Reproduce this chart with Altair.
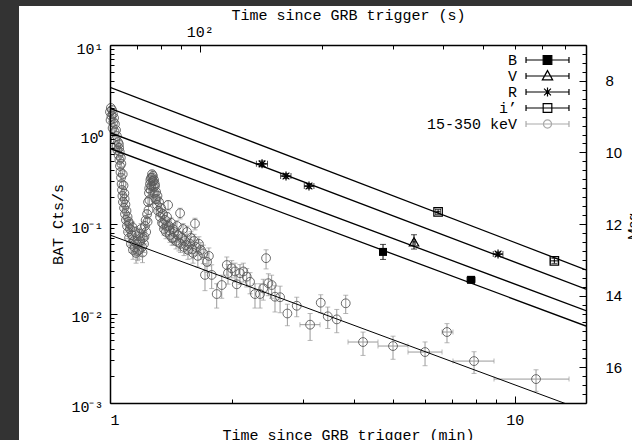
import altair as alt
import pandas as pd

# ---------------- data ----------------
# Swift/BAT 15-350 keV light curve: time since trigger (s), rate (counts/s), 1-sigma error
bat_t_s = [60.0, 60.2, 60.3, 60.5, 60.7, 60.9, 61.0, 61.2, 61.4, 61.6,
           61.7, 61.9, 62.1, 62.3, 62.4, 62.6, 62.8, 63.0, 63.2, 63.3,
           63.5, 63.7, 63.9, 64.1, 64.25, 64.4, 64.6, 65.0, 65.2, 65.35,
           65.7, 65.9, 66.1, 66.5, 66.7, 66.9, 67.2, 67.6, 68.0, 68.4,
           68.8, 69.2, 69.6, 70.0, 70.4, 70.8, 71.2, 71.6, 72.0, 72.4,
           72.8, 73.2, 73.7, 74.1, 74.3, 74.5, 74.7, 74.9, 75.1, 75.35,
           75.6, 75.8, 76.0, 76.2, 76.4, 76.6, 76.9, 77.1, 77.3, 77.5,
           77.7, 78.0, 78.4, 78.6, 78.9, 79.3, 79.8, 80.2, 80.7, 81.1,
           81.6, 82.1, 82.5, 83.0, 83.5, 83.9, 84.4, 84.9, 85.4, 85.9,
           86.4, 87.35, 87.8, 88.35, 89.4, 89.6, 90.4, 90.9, 91.4, 91.9,
           93.0, 93.5, 94.6, 95.1, 96.2, 96.8, 97.3, 97.9, 98.9, 99.5,
           100.6, 102.0, 103.0, 104.2, 105.3, 107.0, 110.1, 113.3, 116.6, 117.4,
           119.9, 122.2, 123.4, 125.7, 128.1, 130.6, 133.1, 136.9, 140.9, 143.5,
           145.8, 147.7, 150.5, 153.4, 157.9, 164.6, 173.6, 199.0, 207.1, 218.0,
           229.4,
           63.1, 63.4, 63.8, 64.0, 64.5, 64.8, 65.1, 65.5,
           66.3, 67.0, 68.2, 69.0, 70.2, 71.0, 72.2, 73.0, 73.5,
           75.0, 75.5, 76.3, 76.8, 77.4, 78.2,
           80.0, 81.3, 82.8, 84.1, 86.0, 88.8, 92.4, 95.7]
bat_rate = [1.79, 1.45, 1.98, 1.61, 1.88, 1.18, 1.69, 1.38, 1.53, 1.07,
            1.31, 0.87, 1.12, 0.74, 0.96, 0.67, 0.82, 0.59, 0.71, 0.52,
            0.445, 0.38, 0.33, 0.28, 0.24, 0.206, 0.176, 0.151, 0.19, 0.129,
            0.111, 0.14, 0.095, 0.0815, 0.106, 0.070, 0.088, 0.060, 0.0754, 0.0513,
            0.0646, 0.0815, 0.0475, 0.060, 0.073, 0.0513, 0.0646, 0.088, 0.0554, 0.070,
            0.060, 0.095, 0.0815, 0.129, 0.106, 0.176, 0.143, 0.222, 0.185, 0.28,
            0.24, 0.327, 0.266, 0.36, 0.303, 0.345, 0.259, 0.31, 0.222, 0.266,
            0.19, 0.228, 0.163, 0.206, 0.140, 0.176, 0.120, 0.151, 0.103, 0.129,
            0.088, 0.111, 0.0815, 0.120, 0.163, 0.095, 0.0754, 0.103, 0.070, 0.088,
            0.0815, 0.0646, 0.095, 0.0754, 0.132, 0.060, 0.070, 0.088, 0.0554, 0.0646,
            0.0815, 0.0513, 0.060, 0.070, 0.0475, 0.0646, 0.101, 0.0554, 0.044, 0.060,
            0.0513, 0.047, 0.027, 0.0377, 0.044, 0.027, 0.0165, 0.0208, 0.0348, 0.0283,
            0.0320, 0.0295, 0.0212, 0.0282, 0.0295, 0.0258, 0.0226, 0.0165, 0.0165, 0.0191,
            0.0415, 0.0218, 0.0208, 0.0154, 0.0152, 0.0100, 0.0122, 0.0132, 0.0093, 0.0086,
            0.0130,
            0.78, 0.64, 0.55, 0.47, 0.36, 0.27, 0.22, 0.165,
            0.12, 0.100, 0.092, 0.055, 0.050, 0.078, 0.048, 0.072, 0.11,
            0.25, 0.31, 0.33, 0.30, 0.28, 0.19,
            0.135, 0.10, 0.095, 0.085, 0.07, 0.062, 0.058, 0.052]
bat_err = [0.06, 0.06, 0.07, 0.06, 0.06, 0.05, 0.06, 0.05, 0.05, 0.05,
           0.05, 0.04, 0.05, 0.04, 0.04, 0.04, 0.04, 0.035, 0.04, 0.035,
           0.03, 0.03, 0.03, 0.028, 0.025, 0.022, 0.02, 0.018, 0.02, 0.016,
           0.015, 0.016, 0.014, 0.013, 0.014, 0.013, 0.013, 0.012, 0.012, 0.011,
           0.012, 0.012, 0.011, 0.012, 0.012, 0.011, 0.012, 0.013, 0.011, 0.012,
           0.012, 0.013, 0.013, 0.015, 0.014, 0.018, 0.016, 0.022, 0.02, 0.03,
           0.028, 0.035, 0.03, 0.038, 0.032, 0.036, 0.03, 0.034, 0.026, 0.03,
           0.022, 0.026, 0.02, 0.024, 0.018, 0.02, 0.016, 0.018, 0.014, 0.016,
           0.013, 0.014, 0.013, 0.015, 0.02, 0.014, 0.013, 0.014, 0.012, 0.013,
           0.013, 0.012, 0.014, 0.013, 0.018, 0.012, 0.012, 0.013, 0.011, 0.012,
           0.013, 0.011, 0.012, 0.012, 0.011, 0.012, 0.015, 0.011, 0.011, 0.012,
           0.011, 0.011, 0.009, 0.009, 0.01, 0.008, 0.005, 0.006, 0.008, 0.007,
           0.007, 0.007, 0.006, 0.007, 0.007, 0.006, 0.006, 0.005, 0.005, 0.005,
           0.01, 0.006, 0.006, 0.005, 0.005, 0.0027, 0.003, 0.003, 0.0025, 0.0025,
           0.003,
           0.04, 0.035, 0.035, 0.03, 0.03, 0.025, 0.022, 0.018,
           0.015, 0.014, 0.013, 0.011, 0.011, 0.012, 0.011, 0.012, 0.014,
           0.025, 0.03, 0.03, 0.03, 0.028, 0.02,
           0.016, 0.014, 0.014, 0.013, 0.012, 0.012, 0.011, 0.011]
# BAT points binned over wider time intervals (s)
bat_bin_t_s = [187.3, 253.1, 300.2, 360.2, 408.1, 476.0, 677.3]
bat_bin_lo_s = [176.8, 232.4, 275.6, 326.9, 396.8, 422.3, 533.3]
bat_bin_hi_s = [198.2, 275.6, 326.9, 396.8, 422.3, 533.3, 817.2]
bat_bin_rate = [0.0075, 0.0048, 0.00433, 0.00371, 0.00621, 0.00294, 0.00185]
bat_bin_err = [0.0025, 0.0014, 0.00125, 0.0011, 0.0015, 0.0008, 0.0005]

# power-law fit to the BAT decay (min, counts/s)
bat_fit_t = [1.0, 15.0]
bat_fit_rate = [0.0753, 0.00081]

# optical photometry: time (min), magnitude, error, time interval (min)
B_t, B_mag, B_err, B_tlo, B_thi = [4.727, 7.80], [12.78, 13.56], [0.21, 0.05], [4.70, 7.62], [4.76, 7.98]
V_t, V_mag, V_err, V_tlo, V_thi = [5.638], [12.50], [0.20], [5.60], [5.68]
R_t = [2.375, 2.722, 3.102, 9.094]
R_mag = [10.32, 10.66, 10.94, 12.84]
R_err = [0.08, 0.07, 0.07, 0.06]
R_tlo = [2.30, 2.64, 3.02, 8.85]
R_thi = [2.45, 2.80, 3.19, 9.35]
I_t, I_mag, I_err, I_tlo, I_thi = [6.466, 12.53], [11.66, 13.03], [0.07, 0.07], [6.38, 12.25], [6.55, 12.80]

# power-law fits to the optical bands (mag at 1 min and 15 min)
fit_t = [1.0, 15.0]
fit_mag_I = [8.18, 13.28]
fit_mag_R = [8.77, 13.82]
fit_mag_V = [9.45, 14.42]
fit_mag_B = [9.89, 14.85]

bands = ["B", "V", "R", "i\u2019", "15-350 keV"]

# axis tick values
bottom_ticks_min = [1, 2, 3, 4, 5, 6, 7, 8, 9, 10]
top_ticks_s = [60, 70, 80, 90, 100, 200, 300, 400, 500, 600, 700, 800, 900]
left_major = [0.001, 0.01, 0.1, 1.0, 10.0]
left_major_labels = ["10\u207b\u00b3", "10\u207b\u00b2", "10\u207b\u00b9", "10\u2070", "10\u00b9"]
right_major = [8, 10, 12, 14, 16]

# ---------------- styling ----------------
W, H = 476, 358
MONO = "Liberation Mono"
SANS = "Liberation Sans"
BAT_PT = "#5a5a5a"
BAT_BAR = "#9a9a9a"

XS = alt.Scale(type="log", domain=[1, 15], nice=False)
YF = alt.Scale(type="log", domain=[0.001, 10], nice=False)
YM = alt.Scale(type="linear", domain=[7, 17], reverse=True, nice=False, zero=False)

left_ticks = [m * 10.0 ** e for e in range(-3, 1) for m in range(1, 10)] + [10.0]
right_ticks = [7 + 0.25 * k for k in range(41)]
top_ticks_min = [s / 60 for s in top_ticks_s]


def tsize(test):
    return {"condition": {"test": test, "value": 7}, "value": 4}


def tick_axis(orient, offset, values, test):
    return alt.Axis(orient=orient, offset=offset, values=values, labels=False, ticks=True,
                    tickSize=tsize(test), tickColor="black", tickWidth=1, domain=True,
                    domainColor="black", domainWidth=1.5, grid=False, title=None, zindex=1)


ax_bottom_ticks = tick_axis("top", -H, bottom_ticks_min, "datum.value < 1.01 || datum.value > 9.9")
ax_left_ticks = tick_axis("right", -W, left_ticks,
                          "abs(log(datum.value)/LN10 - round(log(datum.value)/LN10)) < 0.01")
ax_top_ticks = tick_axis("bottom", -H, top_ticks_min, "abs(datum.value*60 - 100) < 0.5")
ax_right_ticks = tick_axis("left", -W, right_ticks, "abs(datum.value/2 - round(datum.value/2)) < 0.01")

left_expr = "[" + ",".join("'%s'" % s for s in left_major_labels) + "][round(log(datum.value)/LN10)+3]"

ax_bottom_lab = alt.Axis(orient="bottom", values=[1, 10], labelExpr="datum.value < 5 ? '1' : '10'",
                         ticks=False, tickSize=0, domain=False, grid=False, labelFont=MONO,
                         labelFontSize=15, labelColor="black", labelPadding=21,
                         labelBaseline="alphabetic", labelOverlap=False,
                         title="Time since GRB trigger (min)", titleFont=MONO, titleFontSize=15,
                         titleFontWeight="normal", titleColor="black", titleX=W / 2, titleY=36,
                         titleBaseline="alphabetic", titleAlign="center", zindex=1)
ax_left_lab = alt.Axis(orient="left", values=left_major, labelExpr=left_expr, ticks=False, tickSize=0,
                       domain=False, grid=False, labelFont=MONO, labelFontSize=15, labelColor="black",
                       labelPadding=7, labelOffset=3, labelOverlap=False, title="BAT Cts/s",
                       titleFont=MONO, titleFontSize=15, titleFontWeight="normal", titleColor="black",
                       titleX=-48, titleY=H / 2, titleAngle=270, titleAlign="center",
                       titleBaseline="alphabetic", zindex=1)
ax_top_lab = alt.Axis(orient="top", values=[100 / 60], labelExpr="'10\u00b2'", ticks=False, tickSize=0,
                      domain=False, grid=False, labelFont=MONO, labelFontSize=15, labelColor="black",
                      labelPadding=8.5, labelBaseline="alphabetic", labelOverlap=False,
                      title="Time since GRB trigger (s)", titleFont=MONO, titleFontSize=15,
                      titleFontWeight="normal", titleColor="black", titleX=W / 2, titleY=-25.5,
                      titleBaseline="alphabetic", titleAlign="center", zindex=1)
ax_right_lab = alt.Axis(orient="right", values=right_major, ticks=False, tickSize=0, domain=False,
                        grid=False, labelFont=SANS, labelFontSize=15, labelColor="black",
                        labelPadding=19, labelOverlap=False, title="Mag", titleFont=SANS,
                        titleFontSize=14, titleFontWeight="normal", titleColor="black",
                        titleAngle=270, titleX=40, titleY=H / 2 + 2, titleAlign="center",
                        titleBaseline="top", zindex=1)

# ---------------- data frames ----------------
bat = pd.DataFrame({"t": [s / 60 for s in bat_t_s + bat_bin_t_s],
                    "v": bat_rate + bat_bin_rate,
                    "e": bat_err + bat_bin_err})
bat["lo"] = bat["v"] - bat["e"]
bat["hi"] = bat["v"] + bat["e"]
bat_bin = pd.DataFrame({"v": bat_bin_rate,
                        "tlo": [s / 60 for s in bat_bin_lo_s],
                        "thi": [s / 60 for s in bat_bin_hi_s]})
bat_fit = pd.DataFrame({"t": bat_fit_t, "v": bat_fit_rate})


def opt_df(band, t, mag, err, tlo, thi):
    d = pd.DataFrame({"t": t, "mag": mag, "err": err, "tlo": tlo, "thi": thi})
    d["band"] = band
    d["lo"] = d["mag"] - d["err"]
    d["hi"] = d["mag"] + d["err"]
    return d


dB = opt_df("B", B_t, B_mag, B_err, B_tlo, B_thi)
dV = opt_df("V", V_t, V_mag, V_err, V_tlo, V_thi)
dR = opt_df("R", R_t, R_mag, R_err, R_tlo, R_thi)
dI = opt_df("i", I_t, I_mag, I_err, I_tlo, I_thi)
opt_all = pd.concat([dB, dV, dR, dI], ignore_index=True)

fits = pd.concat([
    pd.DataFrame({"t": fit_t, "mag": fit_mag_I, "band": "i"}),
    pd.DataFrame({"t": fit_t, "mag": fit_mag_R, "band": "R"}),
    pd.DataFrame({"t": fit_t, "mag": fit_mag_V, "band": "V"}),
    pd.DataFrame({"t": fit_t, "mag": fit_mag_B, "band": "B"}),
], ignore_index=True)


def X(field, axis=None):
    return alt.X(field, type="quantitative", scale=XS, axis=axis)


def Y(field, scale, axis=None):
    return alt.Y(field, type="quantitative", scale=scale, axis=axis)


def vbars(df, yscale, color, cap, width=1.0):
    rule = alt.Chart(df).mark_rule(color=color, strokeWidth=width).encode(
        x=X("t"), y=Y("lo", yscale), y2="hi:Q")
    caps = alt.Chart(df).transform_fold(["lo", "hi"], as_=["end", "yv"]).mark_tick(
        color=color, orient="horizontal", size=cap, thickness=width).encode(
        x=X("t"), y=Y("yv", yscale))
    return [rule, caps]


def hbars(df, yfield, yscale, color, cap, width=1.0):
    rule = alt.Chart(df).mark_rule(color=color, strokeWidth=width).encode(
        x=X("tlo"), x2="thi:Q", y=Y(yfield, yscale))
    caps = alt.Chart(df).transform_fold(["tlo", "thi"], as_=["end", "xv"]).mark_tick(
        color=color, orient="vertical", size=cap, thickness=width).encode(
        x=X("xv"), y=Y(yfield, yscale))
    return [rule, caps]


layers = []

# white page behind the figure (the reference sits on a dark frame)
layers.append(alt.Chart(alt.Data(values=[{"a": 1}])).mark_rect(color="white").encode(
    x=alt.value(-91), x2=alt.value(522), y=alt.value(-39), y2=alt.value(395)))

# BAT light curve
layers += vbars(bat, YF, BAT_BAR, 5)
layers += hbars(bat_bin, "v", YF, BAT_BAR, 5)
layers.append(alt.Chart(bat).mark_point(shape="circle", filled=False, size=78, color=BAT_PT,
                                        strokeWidth=0.9, opacity=1).encode(
    x=X("t", ax_bottom_lab), y=Y("v", YF, ax_left_lab)))
layers.append(alt.Chart(bat_fit).mark_line(color="black", strokeWidth=1.0, clip=True).encode(
    x=X("t", ax_bottom_ticks), y=Y("v", YF, ax_left_ticks)))

# optical fits
layers.append(alt.Chart(fits).mark_line(color="black", strokeWidth=1.3, clip=True).encode(
    x=X("t", ax_top_ticks), y=Y("mag", YM, ax_right_ticks), detail="band:N"))

# optical error bars
layers += vbars(opt_all, YM, "black", 6)
layers += hbars(opt_all, "mag", YM, "black", 6)

ASTER = "M-1,0H1M0,-1V1M-0.75,-0.75L0.75,0.75M-0.75,0.75L0.75,-0.75"
BOXDOT = "M-1,-1H1V1H-1ZM-0.15,0H0.15"

layers.append(alt.Chart(dB).mark_point(shape="square", filled=True, size=64, color="black",
                                       opacity=1).encode(x=X("t"), y=Y("mag", YM)))
layers.append(alt.Chart(dV).mark_point(shape="triangle-up", filled=False, size=90, color="black",
                                       strokeWidth=1.2, opacity=1).encode(
    x=X("t", ax_top_lab), y=Y("mag", YM, ax_right_lab)))
layers.append(alt.Chart(dR).mark_point(shape=ASTER, filled=False, size=81, color="black",
                                       strokeWidth=1.2, opacity=1).encode(x=X("t"), y=Y("mag", YM)))
layers.append(alt.Chart(dI).mark_point(shape=BOXDOT, filled=False, size=72, color="black",
                                       strokeWidth=1.2, opacity=1).encode(x=X("t"), y=Y("mag", YM)))

# legend (symbols show the marker with its error bar); unit = 6 px
BAR = "M-3.58,0H3.58M-3.58,-0.5V0.5M3.58,-0.5V0.5"
leg_paths = [
    BAR + "M-0.72,-0.72H0.72V0.72H-0.72Z",
    BAR + "M0,-0.9L0.86,0.65L-0.86,0.65Z",
    BAR + "M0,-0.75V0.75M-0.57,-0.57L0.57,0.57M-0.57,0.57L0.57,-0.57",
    BAR + "M-0.72,-0.72H0.72V0.72H-0.72ZM-0.1,0H0.1",
    BAR + "M0.68,0A0.68,0.68,0,1,1,-0.68,0A0.68,0.68,0,1,1,0.68,0",
]
leg_fill = ["black", "transparent", "transparent", "transparent", "transparent"]
leg_stroke = ["black", "black", "black", "black", "#aaaaaa"]


def padl(s):
    return "\u00a0" * (10 - len(s)) + s


leg_expr = " : ".join("datum.label == '%s' ? '%s'" % (b, padl(b)) for b in bands) + " : datum.label"
legend = alt.Legend(title=None, orient="none", legendX=430, legendY=7.5, direction="vertical",
                    labelAlign="right", labelOffset={"expr": "-38"}, labelFont=MONO, labelFontSize=15,
                    labelColor="black", labelLimit=400, labelExpr=leg_expr, symbolSize=144,
                    symbolStrokeWidth=1.2, rowPadding={"expr": "-1"}, padding=0, zindex=1)
layers.append(alt.Chart(pd.DataFrame({"band": bands})).transform_filter("false").mark_point(
    size=144, strokeWidth=1.2, filled=False, opacity=1).encode(
    shape=alt.Shape("band:N", scale=alt.Scale(domain=bands, range=leg_paths), legend=legend),
    fill=alt.Fill("band:N", scale=alt.Scale(domain=bands, range=leg_fill), legend=legend),
    stroke=alt.Stroke("band:N", scale=alt.Scale(domain=bands, range=leg_stroke), legend=legend)))

chart = alt.layer(*layers).resolve_scale(x="independent", y="independent").properties(
    width=W, height=H,
    padding={"left": 110, "top": 45, "right": 46, "bottom": 37},
    autosize=alt.AutoSizeParams(type="none"),
    background="#333333",
).configure_view(stroke=None).configure_axis(grid=False)

chart.save("out.html", embed_options={"renderer": "svg", "actions": False})
